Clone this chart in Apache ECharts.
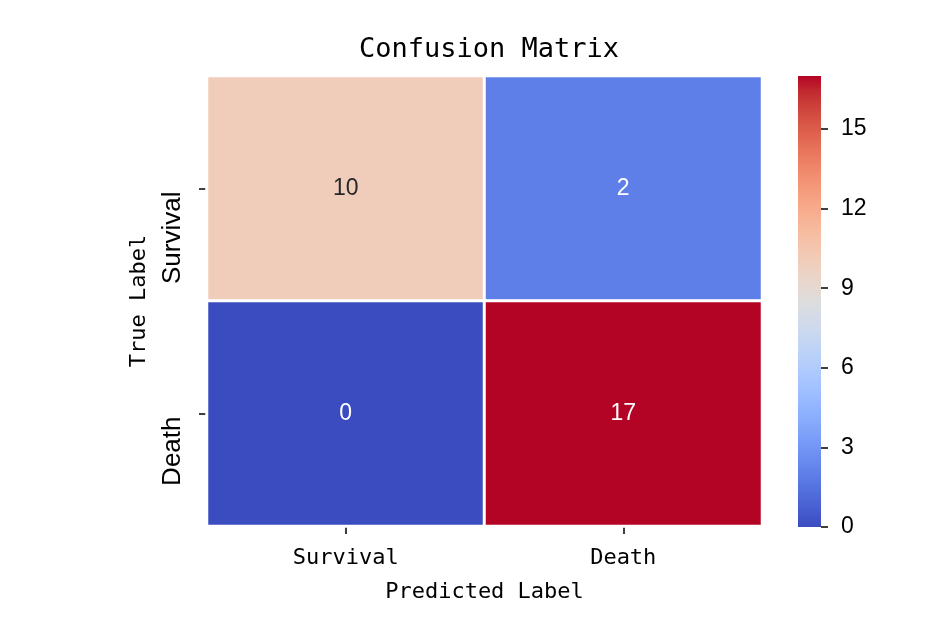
<!DOCTYPE html>
<html>
<head>
<meta charset="utf-8">
<script src="https://cdn.jsdelivr.net/npm/echarts@6/dist/echarts.min.js"></script>
<style>html,body{margin:0;padding:0;background:#fff}#c{width:948px;height:636px}</style>
</head>
<body>
<div id="c"></div>
<script>
const predictedLabels = ['Survival', 'Death'];
const trueLabels = ['Survival', 'Death'];
// rows = true label, columns = predicted label
const matrixRow0 = [10, 2];
const matrixRow1 = [0, 17];
const colorbarTicks = [0, 3, 6, 9, 12, 15];
const colorMin = 0;
const colorMax = 17;

// matplotlib "coolwarm" colormap samples
const coolwarm = [
  [59,76,192],[68,90,204],[77,104,215],[87,117,225],[98,130,234],[108,142,241],
  [119,154,247],[130,165,251],[141,176,254],[152,185,255],[163,194,255],[174,201,253],
  [184,208,249],[194,213,244],[204,217,238],[213,219,230],[221,221,221],[229,216,209],
  [236,211,197],[241,204,184],[245,196,172],[247,187,159],[247,177,147],[247,166,134],
  [244,154,123],[241,141,111],[236,127,99],[229,112,88],[222,96,77],[213,80,66],
  [203,62,56],[192,40,47],[180,4,38]
].map(c => 'rgb(' + c.join(',') + ')');

const rows = [matrixRow0, matrixRow1];
const heatData = [];
rows.forEach((row, yi) => row.forEach((v, xi) => {
  const t = (v - colorMin) / (colorMax - colorMin);
  const dark = Math.abs(t - 0.5) < 0.3;
  heatData.push({ value: [xi, yi, v], label: { color: dark ? '#262626' : '#ffffff' } });
}));

const gradStops = coolwarm.map((c, i) => ({ offset: 1 - i / (coolwarm.length - 1), color: c }));

const monoFont = '"DejaVu Sans Mono", "Liberation Mono", monospace';
const sansFont = '"Liberation Sans", Arial, sans-serif';

const chart = echarts.init(document.getElementById('c'), null, { renderer: 'canvas' });
chart.setOption({
  backgroundColor: '#ffffff',
  animation: false,
  title: {
    text: 'Confusion Matrix',
    left: 484, top: 31, textAlign: 'center',
    textStyle: { fontFamily: monoFont, fontSize: 27, fontWeight: 'normal', color: '#000' }
  },
  grid: [
    { left: 207, top: 76, width: 555, height: 450 },
    { left: 798, top: 76, width: 23, height: 451 }
  ],
  xAxis: [
    {
      type: 'category', gridIndex: 0, data: predictedLabels,
      name: 'Predicted Label', nameLocation: 'middle', nameGap: 55,
      nameTextStyle: { fontFamily: monoFont, fontSize: 22, color: '#000' },
      axisLine: { show: false },
      axisTick: { show: true, alignWithLabel: true, length: 8, lineStyle: { color: '#000', width: 1.5 } },
      axisLabel: { fontFamily: monoFont, fontSize: 22, color: '#000', margin: 21 },
      splitLine: { show: false }
    },
    {
      type: 'category', gridIndex: 1, data: [''],
      axisLine: { show: false }, axisTick: { show: false }, axisLabel: { show: false }
    }
  ],
  yAxis: [
    {
      type: 'category', gridIndex: 0, data: trueLabels, inverse: true,
      name: 'True Label', nameLocation: 'middle', nameGap: 57, nameRotate: 90,
      nameTextStyle: { fontFamily: monoFont, fontSize: 22, color: '#000' },
      axisLine: { show: false },
      axisTick: { show: true, alignWithLabel: true, length: 8, lineStyle: { color: '#000', width: 1.5 } },
      axisLabel: { fontFamily: sansFont, fontSize: 26, color: '#000', rotate: 90, align: 'right', verticalAlign: 'middle', margin: 34, padding: [0, 3, 0, 0] },
      splitLine: { show: false }
    },
    {
      type: 'value', gridIndex: 1, position: 'right', min: colorMin, max: colorMax,
      axisLine: { show: false },
      axisTick: { show: true, length: 7, customValues: colorbarTicks, lineStyle: { color: '#000', width: 1.5 } },
      axisLabel: { fontFamily: sansFont, fontSize: 23, color: '#000', margin: 20, customValues: colorbarTicks },
      splitLine: { show: false }
    }
  ],
  visualMap: {
    show: false, type: 'continuous', min: colorMin, max: colorMax, dimension: 2,
    seriesIndex: 0, inRange: { color: coolwarm }
  },
  series: [
    {
      type: 'heatmap', xAxisIndex: 0, yAxisIndex: 0, data: heatData,
      itemStyle: { borderColor: '#ffffff', borderWidth: 3 },
      label: { show: true, fontFamily: sansFont, fontSize: 23, formatter: p => String(p.value[2]) },
      emphasis: { disabled: true }
    },
    {
      type: 'bar', xAxisIndex: 1, yAxisIndex: 1, data: [colorMax], barWidth: '100%',
      itemStyle: { color: new echarts.graphic.LinearGradient(0, 0, 0, 1, gradStops) },
      silent: true
    }
  ]
});
</script>
</body>
</html>
